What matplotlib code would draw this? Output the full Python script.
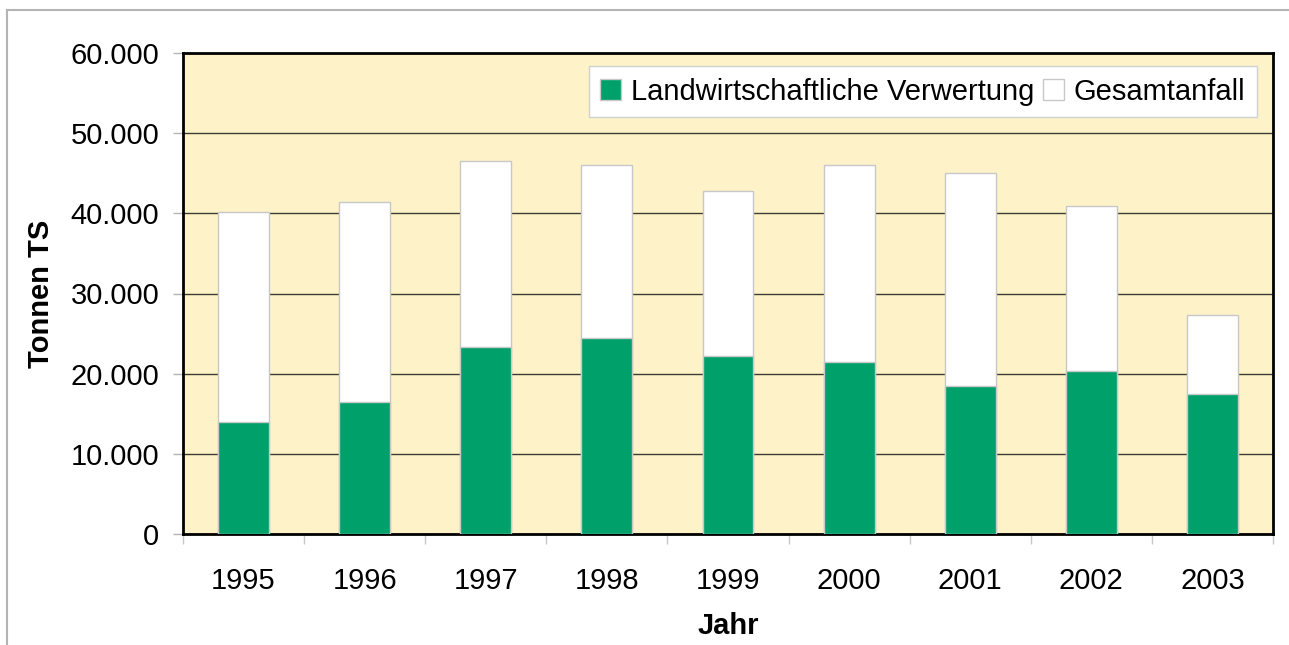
import matplotlib.pyplot as plt
from matplotlib.ticker import FuncFormatter
from matplotlib.lines import Line2D

plt.rcParams['font.family'] = ['Liberation Sans', 'DejaVu Sans']

years = ['1995', '1996', '1997', '1998', '1999', '2000', '2001', '2002', '2003']
gesamtanfall = [40200, 41400, 46500, 46000, 42800, 46000, 45000, 40900, 27300]
landwirtschaft = [14000, 16500, 23300, 24400, 22200, 21500, 18500, 20300, 17500]

W, H = 1289, 645
fig = plt.figure(figsize=(W / 100, H / 100), dpi=100)
ax = fig.add_axes([183 / W, 1 - 534 / H, (1273 - 183) / W, (534 - 53) / H])

# outer frame, only top and left edges are visible in the crop
fig.lines.append(Line2D([7 / W, 7 / W], [0, 1 - 9.5 / H], transform=fig.transFigure,
                        color='#b4b4b4', linewidth=1.5))
fig.lines.append(Line2D([7 / W, 1], [1 - 9.5 / H, 1 - 9.5 / H], transform=fig.transFigure,
                        color='#b4b4b4', linewidth=1.5))

x = range(len(years))
w = 0.42
ax.bar(x, gesamtanfall, w, color='white', edgecolor='#c8c8c8', linewidth=1,
       label='Gesamtanfall', zorder=2)
ax.bar(x, landwirtschaft, w, color='#00a06a', edgecolor='#c8c8c8', linewidth=1,
       label='Landwirtschaftliche Verwertung', zorder=3)

ax.set_facecolor('#fdf2c8')
ax.set_xlim(-0.5, len(years) - 0.5)
ax.set_ylim(0, 60000)
ax.set_yticks(range(0, 60001, 10000))
ax.yaxis.set_major_formatter(FuncFormatter(lambda v, p: f'{int(v):,}'.replace(',', '.')))
ax.grid(axis='y', color='#3c3c32', linewidth=1, zorder=1)
ax.set_axisbelow(True)

ax.set_xticks([i - 0.5 for i in range(len(years) + 1)])
ax.set_xticklabels([])
ax.set_xticks(list(x), minor=True)
ax.set_xticklabels(years, minor=True)
ax.tick_params(axis='x', which='major', length=7, color='#c8c8c8', width=1)
ax.tick_params(axis='x', which='minor', length=0, labelsize=21, pad=24)
ax.tick_params(axis='y', length=7, color='#b4b4b4', width=1, labelsize=21, pad=10)

for s in ax.spines.values():
    s.set_linewidth(2)
    s.set_color('black')

ax.set_xlabel('Jahr', fontsize=21, fontweight='bold', labelpad=12)
ax.set_ylabel('Tonnen TS', fontsize=21, fontweight='bold', labelpad=11)

handles, labels = ax.get_legend_handles_labels()
leg = ax.legend(handles[::-1], labels[::-1], loc='upper right', ncol=2,
                fontsize=21, frameon=True, fancybox=False, framealpha=1,
                edgecolor='#d0d0d0', handlelength=0.7, handleheight=0.7,
                handletextpad=0.35, columnspacing=0.3, borderpad=0.4,
                borderaxespad=0, bbox_to_anchor=(1 - 16 / 1090, 1 - 13 / 481))
leg.get_frame().set_linewidth(1)

fig.savefig('out.png', dpi=100)
